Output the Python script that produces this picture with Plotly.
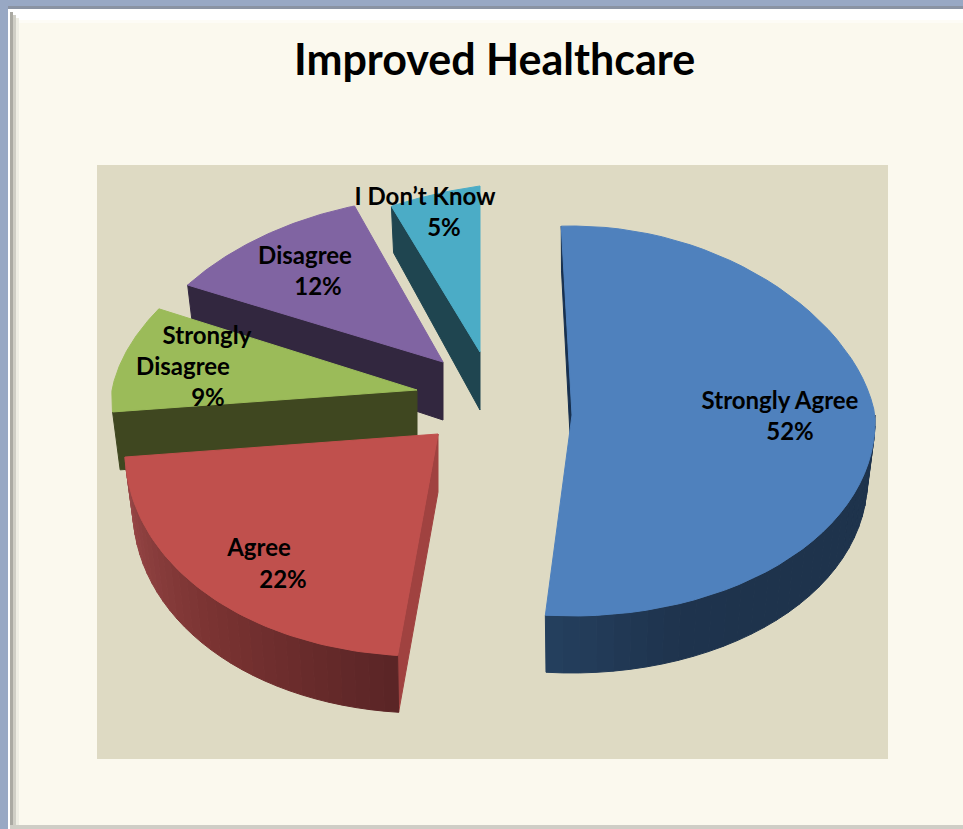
import math
import plotly.graph_objects as go

# data
categories = ["Strongly Agree", "Agree", "Strongly Disagree", "Disagree", "I Don’t Know"]
percent = [52, 22, 9, 12, 5]

title_text = "Improved Healthcare"
label_lines = [["Strongly Agree"], ["Agree"], ["Strongly", "Disagree"], ["Disagree"], ["I Don’t Know"]]

# pie styling, one entry per slice
top_colors = ["#4f81bd", "#c0504d", "#9bbb59", "#8064a2", "#4bacc6"]
# rim shading, from the start of the visible rim to its end
rim_colors = [["#1e334c", "#1e334c", "#1e334c", "#1f344e", "#25405f"],
              ["#5a2526", "#7c3433", "#994848"],
              None, None, None]
cut_colors = ["#17304f", "#a04240", "#3f4720", "#32273f", "#1f4550"]

# exploded slice geometry in page pixels:
# apex x, apex y, radius x, back and front radius y, rotation, tilt
slice_geom = [(572, 415, 303, 189, 201, -2.3, 0),
              (438, 434, 313, 160, 222, 0, -0.029),
              (417, 390, 305, 180, 225, -2, 0),
              (443, 362, 305, 165, 200, -1, 0),
              (480, 352, 322, 166, 200, 0, -0.136)]
label_pos = [[(780, 403), (790, 434)],
             [(259, 550), (283, 582)],
             [(207, 338), (183, 369), (208, 400)],
             [(305, 258), (318, 289)],
             [(425, 199), (444, 230)]]

DEPTH = 58
BG = "#fbf9ee"
PANEL = "#dedac3"
FONT = "Lato"


def project(geom, deg, bottom=False):
    cx, cy, rx, ry_back, ry_front, _, tilt = geom
    t = math.radians(deg)
    c, s = math.cos(t), math.sin(t)
    # back of the pie is narrower than the front, like the perspective in the original
    eff_rx = rx * (1 - 0.115 * c) if c > 0 else rx * (1 - 0.03 * c)
    eff_ry = ry_back if c > 0 else ry_front
    if bottom:
        x = cx + 0.975 * eff_rx * s
        y = cy + DEPTH - (1.07 if c > 0 else 0.995) * eff_ry * c
    else:
        x = cx + eff_rx * s
        y = cy - eff_ry * c
    return x, y + tilt * (x - cx)


def apex(geom, bottom=False):
    return geom[0], geom[1] + (DEPTH if bottom else 0)


def poly(points, color):
    xs = [p[0] for p in points] + [points[0][0]]
    ys = [p[1] for p in points] + [points[0][1]]
    return go.Scatter(x=xs, y=ys, mode="lines", fill="toself", fillcolor=color,
                      line=dict(color=color, width=1), hoverinfo="skip", showlegend=False)


def arc(geom, a, b, bottom=False, n=60):
    return [project(geom, a + (b - a) * i / n, bottom) for i in range(n + 1)]


def shade(colors, frac):
    pos = frac * (len(colors) - 1)
    lo = min(int(pos), len(colors) - 2)
    w = pos - lo
    c0 = [int(colors[lo][j:j + 2], 16) for j in (1, 3, 5)]
    c1 = [int(colors[lo + 1][j:j + 2], 16) for j in (1, 3, 5)]
    return "rgb(%d,%d,%d)" % tuple(c0[j] + (c1[j] - c0[j]) * w for j in range(3))


fig = go.Figure()

# angles of each slice, clockwise from the top
edges = [0]
for v in percent:
    edges.append(edges[-1] + v * 3.6)

# back slices first so the front ones cover their walls
for i in [4, 3, 2, 1, 0]:
    g = slice_geom[i]
    a, b = edges[i] + g[5], edges[i + 1] + g[5]

    # cut face on the start edge
    fig.add_trace(poly([project(g, a), apex(g), apex(g, True), project(g, a, True)], cut_colors[i]))

    # outer rim, in short pieces so the shading can change along it
    if rim_colors[i]:
        rim_a = max(a, 90)
        n_seg = 30
        for k in range(n_seg):
            a0 = rim_a + (b - rim_a) * k / n_seg
            a1 = rim_a + (b - rim_a) * (k + 1) / n_seg
            top = arc(g, a0, a1, False, 4)
            bot = arc(g, a0, a1, True, 4)
            fig.add_trace(poly(top + bot[::-1], shade(rim_colors[i], (k + 0.5) / n_seg)))

    fig.add_trace(poly([apex(g)] + arc(g, a, b), top_colors[i]))

# labels are stacked line by line, the percent goes under the name
xs, ys, texts = [], [], []
for i, lines in enumerate(label_lines):
    rows = lines + [f"{percent[i]}%"]
    for row, pos in zip(rows, label_pos[i]):
        xs.append(pos[0])
        ys.append(pos[1])
        texts.append(f"<b>{row}</b>")
fig.add_trace(go.Scatter(x=xs, y=ys, mode="text", text=texts, textposition="middle center",
                         textfont=dict(family=FONT, size=24, color="#000000"),
                         hoverinfo="skip", showlegend=False))

# window frame and the panel behind the pie
frame = [(97, 888, 165, 759, PANEL),
         (0, 963, 0, 6, "#98a8c4"),
         (8, 963, 6, 9, "#8a93a3"),
         (0, 8, 0, 829, "#98a8c4"),
         (8, 963, 9, 20, "#ffffff"),
         (8, 963, 20, 23, "#fdfcf6"),
         (8, 10, 9, 829, "#ffffff"),
         (10, 13, 12, 829, "#aaa9a2"),
         (13, 16, 15, 829, "#cfcec5"),
         (16, 19, 18, 829, "#eeede3"),
         (10, 963, 825, 829, "#cfcec6")]
shapes = [dict(type="rect", xref="x", yref="y", x0=f[0], x1=f[1], y0=f[2], y1=f[3],
               fillcolor=f[4], line_width=0, layer="below") for f in frame]

fig.update_layout(
    width=963,
    height=829,
    margin=dict(l=0, r=0, t=0, b=0),
    paper_bgcolor=BG,
    plot_bgcolor=BG,
    showlegend=False,
    shapes=shapes,
    xaxis=dict(range=[0, 963], visible=False, fixedrange=True),
    yaxis=dict(range=[829, 0], visible=False, fixedrange=True),
    annotations=[dict(text=f"<b>{title_text}</b>", x=494, y=58, xref="x", yref="y", showarrow=False,
                      font=dict(family=FONT, size=43, color="#000000"))],
)

fig.write_html("out.html", config=dict(displayModeBar=False),
               post_script="document.body.style.margin='0';document.body.style.overflow='hidden';")
